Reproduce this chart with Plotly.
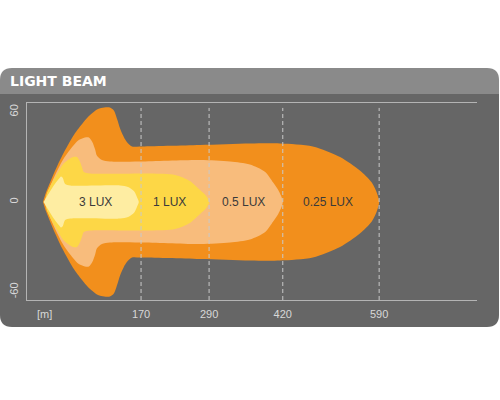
import plotly.graph_objects as go

# ---- data: beam iso-lux outlines (distance in m, spread in degrees) ----
zone_names = ["0.25 LUX", "0.5 LUX", "1 LUX", "3 LUX"]
zone_colors = ["#f28f1c", "#f8bc7c", "#fdd746", "#feeda2"]

lux025_x = [-3, 1, 15, 31, 52, 68, 80, 94, 105, 115, 122, 128, 133, 140, 145, 154, 168, 274, 362, 415, 473, 521, 556, 577, 586, 590,
            586, 577, 556, 521, 473, 415, 362, 274, 168, 154, 145, 140, 133, 128, 122, 115, 105, 94, 80, 68, 52, 31, 15, 1]
lux025_y = [0, 5, 18, 31, 45, 53, 58, 62, 63, 63, 61, 55, 49, 43, 40, 37, 37, 38, 39, 39, 37, 30, 21, 13, 6, 0,
            -6, -13, -21, -30, -37, -39, -39, -38, -37, -37, -40, -43, -49, -55, -61, -63, -63, -62, -58, -53, -45, -31, -18, -5]

lux05_x = [0, 4, 16, 32, 45, 59, 71, 78, 84, 89, 92, 101, 115, 168, 274, 327, 362, 389, 403, 412, 420,
           412, 403, 389, 362, 327, 274, 168, 115, 101, 92, 89, 84, 78, 71, 59, 45, 32, 16, 4]
lux05_y = [0, 5, 16, 28, 35, 41, 43, 43, 40, 35, 31, 28, 27, 27, 28, 27, 25, 20, 13, 8, 0,
           -8, -13, -20, -25, -27, -28, -27, -27, -28, -31, -35, -40, -43, -43, -41, -35, -28, -16, -5]

lux1_x = [0, 4, 13, 24, 32, 41, 50, 57, 62, 66, 69, 80, 186, 230, 256, 274, 285, 290,
          285, 274, 256, 230, 186, 80, 69, 66, 62, 57, 50, 41, 32, 24, 13, 4]
lux1_y = [0, 6, 13, 20, 25, 28, 30, 30, 27, 23, 20, 19, 19, 18, 14, 8, 4, 0,
          -4, -8, -14, -18, -19, -19, -20, -23, -27, -30, -30, -28, -25, -20, -13, -6]

lux3_x = [-2, 6, 16, 24, 29, 32, 36, 45, 133, 147, 158, 163, 166,
          163, 158, 147, 133, 45, 36, 32, 29, 24, 16, 6]
lux3_y = [0, 5, 11, 15, 17, 16, 12, 11, 11, 10, 7, 3, 0,
          -3, -7, -10, -11, -11, -12, -16, -17, -15, -11, -5]

label_x = [500, 350, 221, 89]

x_tick_vals = [0, 170, 290, 420, 590]
x_tick_text = ["[m]", "170", "290", "420", "590"]
y_tick_vals = [-60, 0, 60]
y_tick_text = ["-60", "0", "60"]
dash_lines = [170, 290, 420, 590]

# ---- figure ----
fig = go.Figure()
for xs, ys, col in [(lux025_x, lux025_y, zone_colors[0]), (lux05_x, lux05_y, zone_colors[1]),
                    (lux1_x, lux1_y, zone_colors[2]), (lux3_x, lux3_y, zone_colors[3])]:
    fig.add_trace(go.Scatter(x=xs, y=ys, mode="lines", fill="toself", fillcolor=col,
                             line=dict(width=0, color=col, shape="spline", smoothing=0.8),
                             hoverinfo="skip", showlegend=False))

L, R, T, B = 27, 23, 103, 100
W, H = 500, 400
pw, ph = W - L - R, H - T - B


def P(px, py):
    return (px - L) / pw, (H - B - py) / ph


def path(points):
    out = []
    for cmd, pts in points:
        coords = " ".join("%.5f,%.5f" % P(*p) for p in pts)
        out.append(cmd + " " + coords if pts else cmd)
    return " ".join(out)


header = path([("M", [(0, 94)]), ("L", [(0, 80)]), ("Q", [(0, 68), (12, 68)]), ("L", [(487, 68)]),
               ("Q", [(499, 68), (499, 80)]), ("L", [(499, 94)]), ("Z", [])])
body = path([("M", [(0, 94)]), ("L", [(499, 94)]), ("L", [(499, 315)]), ("Q", [(499, 327), (487, 327)]),
             ("L", [(12, 327)]), ("Q", [(0, 327), (0, 315)]), ("Z", [])])

fig.add_shape(type="path", path=body, xref="paper", yref="paper", fillcolor="#666666",
              line=dict(width=0), layer="below")
fig.add_shape(type="path", path=header, xref="paper", yref="paper", fillcolor="#8a8a8a",
              line=dict(width=0), layer="below")

for xv in dash_lines:
    fig.add_shape(type="line", xref="x", yref="paper", x0=xv, x1=xv, y0=0, y1=0.975,
                  line=dict(color="#c9c9c9", width=1, dash="4px,3px"), layer="above")

fig.add_annotation(text="LIGHT BEAM", xref="paper", yref="paper", x=P(8, 81)[0], y=P(8, 81)[1],
                   xanchor="left", yanchor="middle", showarrow=False,
                   font=dict(family="DejaVu Sans", size=14, color="#ffffff", weight="bold"))

for name, lx in zip(zone_names, label_x):
    fig.add_annotation(text=name, x=lx, y=0, showarrow=False, xanchor="center", yanchor="middle",
                       font=dict(family="Liberation Sans", size=12, color="#3a3a3a"))

fig.update_layout(
    width=W, height=H,
    margin=dict(l=L, r=R, t=T, b=B, pad=0, autoexpand=False),
    paper_bgcolor="#ffffff", plot_bgcolor="rgba(0,0,0,0)",
    showlegend=False,
    xaxis=dict(range=[-31.2, 762.6], showgrid=False, zeroline=False, showline=True, mirror=True,
               linecolor="#b4b4b4", linewidth=1, ticks="", tickvals=x_tick_vals, ticktext=x_tick_text,
               automargin=False,
               tickfont=dict(family="Liberation Sans", size=11, color="#d8d8d8"), ticklabelstandoff=4),
    yaxis=dict(range=[-65.3, 66], showgrid=False, zeroline=False, showline=True, mirror=False,
               linecolor="#b4b4b4", linewidth=1, ticks="", tickvals=y_tick_vals, ticktext=y_tick_text,
               automargin=False,
               tickangle=-90, tickfont=dict(family="Liberation Sans", size=11, color="#d8d8d8"),
               ticklabelstandoff=4),
)

fig.write_html("out.html", post_script="document.body.style.margin='0px';",
               config={"displayModeBar": False})
